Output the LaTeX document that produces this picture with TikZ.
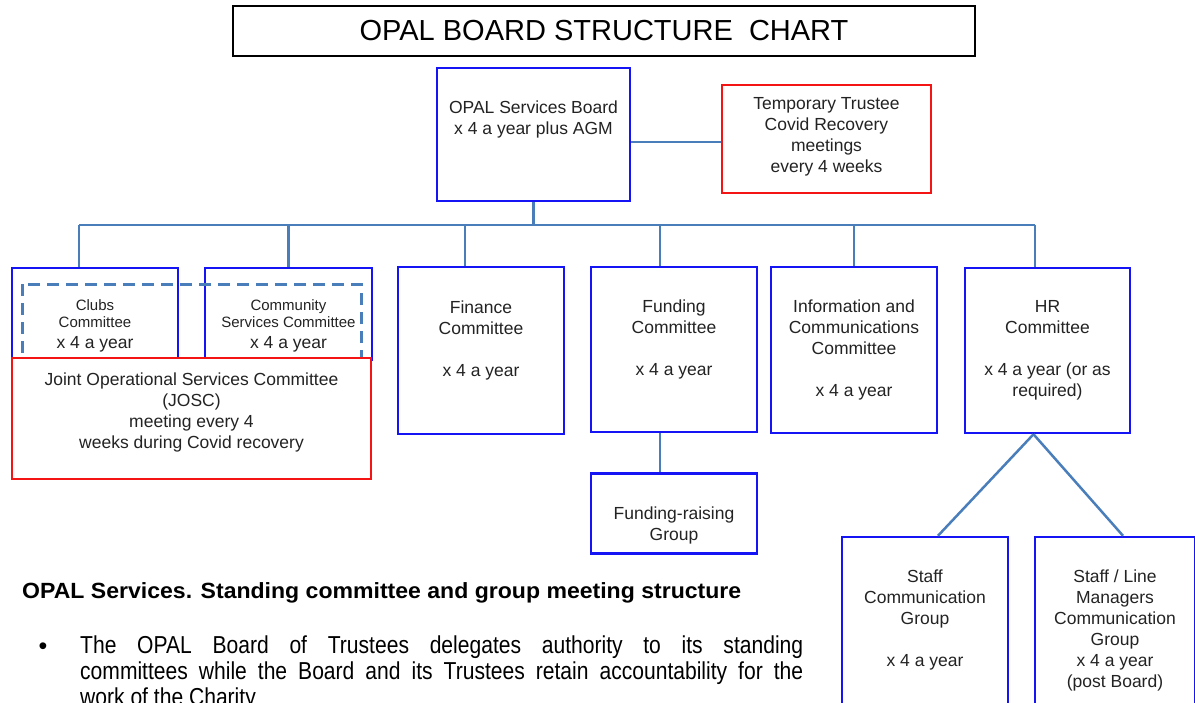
\documentclass[tikz,border=0pt]{standalone}
\usepackage{fontspec}
\setmainfont{Liberation Sans}
\newfontfamily\narrowfont[FakeStretch=0.86]{Liberation Sans}
\usepackage{graphicx}
\usepackage{xcolor}
\usetikzlibrary{positioning}

\definecolor{boxblue}{RGB}{20,20,245}
\definecolor{boxred}{RGB}{245,20,20}
\definecolor{linkblue}{RGB}{74,126,187}
\definecolor{inkgrey}{RGB}{35,35,35}

% width, height, space above first line, text
\newcommand{\boxtext}[4]{\parbox[c][#2][t]{#1}{\centering\vspace*{#3}#4}}
\newcommand{\smalltxt}{\fontsize{15}{17}\selectfont}

\begin{document}
\begin{tikzpicture}[
            x=1pt, y=-1pt,
            node distance = 41pt,
            unit/.style={
                draw=boxblue,
                line width=2.5pt,
                fill=white,
                inner sep=0pt,
                text=inkgrey,
                font=\fontsize{17.5}{21}\selectfont
            },
            covid/.style={unit, draw=boxred},
            link/.style={draw=linkblue, line width=2.5pt}
        ]
        \useasboundingbox (0,0) rectangle (1195,702);
        \clip (0,0) rectangle (1195,702);

        \node[draw, line width=2.5pt, minimum width=742pt, minimum height=50pt, inner sep=0pt,
              font=\fontsize{29}{29}\selectfont] (title) at (604,31) {OPAL BOARD STRUCTURE~ CHART};

        \node[unit] (board) at (533.5,134.5) {\boxtext{193pt}{133pt}{32.5pt}{OPAL Services Board\\x 4 a year plus AGM}};
        \node[covid] (temp) at (826.5,139) {\boxtext{209pt}{108pt}{12.5pt}{Temporary Trustee\\Covid Recovery\\meetings\\every 4 weeks}};

        \node[unit] (clubs) at (95,314) {\boxtext{166pt}{92pt}{31.5pt}{{\smalltxt Clubs\\Committee\par}x 4 a year}};
        \node[unit] (community) at (288.5,314) {\boxtext{167pt}{92pt}{31.5pt}{{\smalltxt Community\\Services Committee\par}x 4 a year}};
        \node[unit] (finance) at (481,350.5) {\boxtext{166pt}{167pt}{34pt}{Finance\\Committee\\[21pt]x 4 a year}};
        \node[unit] (funding) at (674,349.5) {\boxtext{166pt}{165pt}{33pt}{Funding\\Committee\\[21pt]x 4 a year}};
        \node[unit] (info) at (854,350) {\boxtext{166pt}{166pt}{33pt}{Information and\\Communications\\Committee\\[21pt]x 4 a year}};
        \node[unit] (hr) at (1047.5,350.5) {\boxtext{165pt}{165pt}{32pt}{HR\\Committee\\[21pt]x 4 a year (or as\\required)}};

        \node[unit, below=39pt of funding] (fundraise) {\boxtext{166pt}{80pt}{33pt}{Funding-raising\\Group}};
        \node[unit] (staff) at (925,627) {\boxtext{166pt}{180pt}{32.5pt}{Staff\\Communication\\Group\\[21pt]x 4 a year}};
        \node[unit] (linemgr) at (1115,627) {\boxtext{160pt}{180pt}{32.5pt}{Staff / Line\\Managers\\Communication\\Group\\x 4 a year\\(post Board)}};

        % joint committee over the two operational ones
        \draw[link, line width=3pt, dash pattern=on 12pt off 7pt] (22,284) rectangle (361,372);
        \node[covid] (josc) at (191.5,418.5) {\boxtext{359pt}{121pt}{14.5pt}{Joint Operational Services Committee\\(JOSC)\\meeting every 4\\weeks during Covid recovery}};

        \coordinate (busL) at (79,225);
        \coordinate (busR) at (1035,225);
        \draw[link] (busL) -- (busR);
        \draw[link] (board.south) -- (board.south |- busL);
        \draw[link] ([yshift=-3pt]temp.west) -- ([yshift=-3pt]temp.west -| board.east);
        \draw[link] (busL) -- (busL |- clubs.north);
        \draw[link] (community.north |- busL) -- (community.north);
        \draw[link] ([xshift=-16pt]finance.north |- busL) -- ([xshift=-16pt]finance.north);
        \draw[link] ([xshift=-14pt]funding.north |- busL) -- ([xshift=-14pt]funding.north);
        \draw[link] (info.north |- busL) -- (info.north);
        \draw[link] (busR) -- (busR |- hr.north);
        \draw[link] ([xshift=-14pt]funding.south) -- ([xshift=-14pt]fundraise.north);
        \draw[link] ([xshift=-14pt]hr.south) -- ([xshift=13pt]staff.north);
        \draw[link] ([xshift=-14pt]hr.south) -- ([xshift=8pt]linemgr.north);

        \node[anchor=base west, inner sep=0pt] (heading) at (22,598)
            {\resizebox{719pt}{\height}{\narrowfont\bfseries\fontsize{22}{22}\selectfont OPAL Services. Standing committee and group meeting structure}};
        \node[anchor=base, inner sep=0pt, font=\fontsize{25}{26}\selectfont] (bullet) at (43,654) {\textbullet};
        \node[anchor=north west, inner sep=0pt, text width=723pt, align=justify,
              font=\narrowfont\fontsize{24.5}{26}\selectfont] (para) at (80,636)
            {The OPAL Board of Trustees delegates authority to its standing\linebreak
             committees while the Board and its Trustees retain accountability for the\linebreak
             work of the Charity};
    \end{tikzpicture}
\end{document}
